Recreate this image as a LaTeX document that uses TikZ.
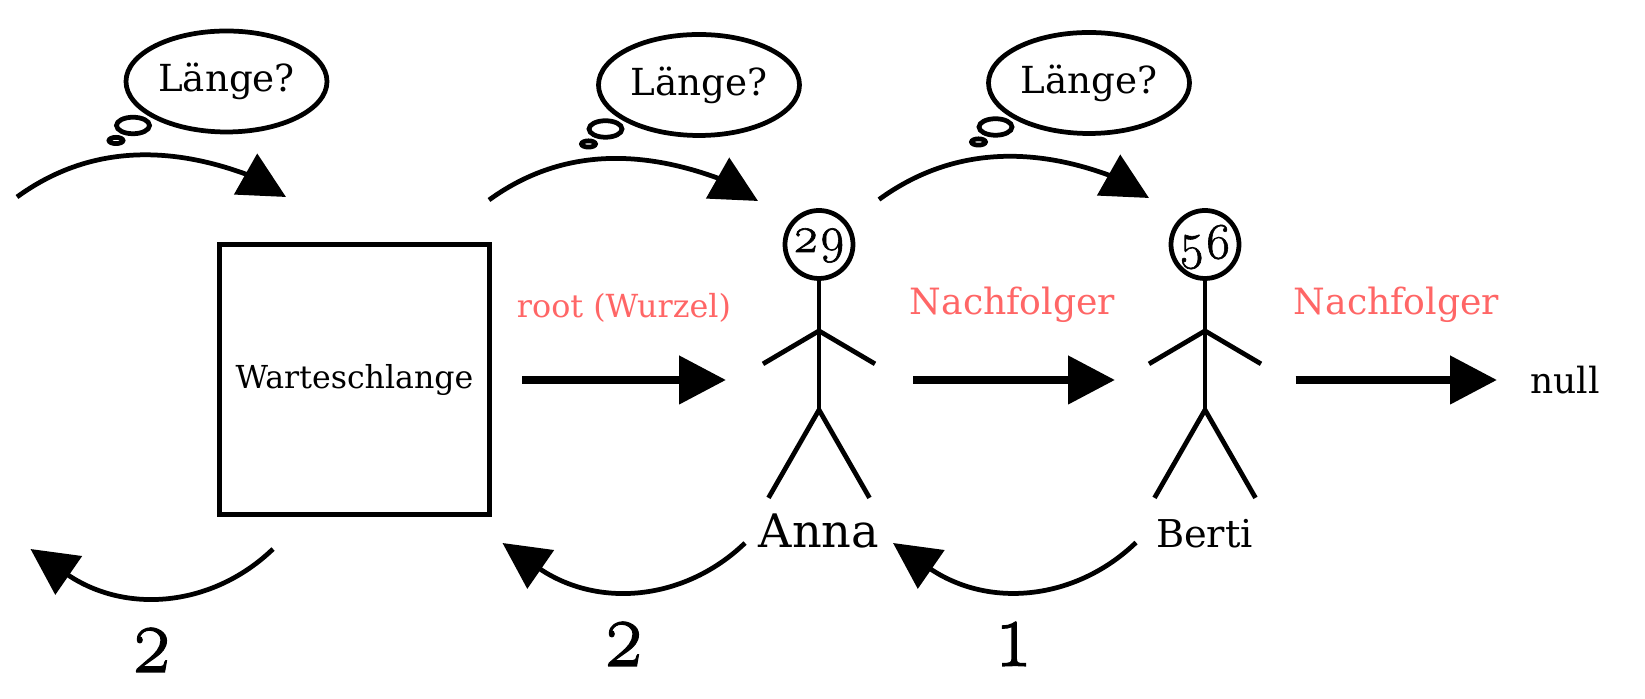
\documentclass[tikz,border=0pt]{standalone}
\usepackage{fontspec}
\setmainfont{DejaVu Serif}
\newfontfamily\oldnum[Numbers=OldStyle,FakeBold=1.2]{Latin Modern Roman}
\newfontfamily\bignum[Numbers=OldStyle,FakeBold=1.2,FakeStretch=0.83]{Latin Modern Roman}
\usepackage{tikz}
\usetikzlibrary{positioning,arrows.meta,shapes.geometric}
\usepackage{xcolor}
\tikzset{
  bubble/.style={ellipse,draw,line width=0.095cm,minimum width=4.02cm,minimum height=2.02cm,inner sep=0pt,outer sep=0pt,font=\fontsize{21.2}{24}\selectfont},
  puff/.style={ellipse,draw,line width=0.095cm,inner sep=0pt},
  walk/.style={line width=0.095cm,-{Triangle[length=0.93cm,width=0.92cm]}},
  link/.style={line width=0.16cm,-{Triangle[length=0.94cm,width=0.94cm]}},
  limb/.style={line width=0.095cm},
  head/.style={circle,draw,line width=0.095cm,minimum size=1.36cm,inner sep=0pt,font=\fontsize{29}{32}\oldnum},
  rel/.style={anchor=base,text=red!60},
  count/.style={anchor=base,font=\fontsize{54}{58}\bignum}
}
\begin{document}
\begin{tikzpicture}
\useasboundingbox (0,0) rectangle (32.9,13.98);
% thought bubbles
\foreach \n/\x/\y in {thinkQ/4.53/12.35,thinkA/13.98/12.28,thinkB/21.78/12.32} {
  \node[bubble] (\n) at (\x,\y) {Länge?};
  \node[puff,minimum width=0.66cm,minimum height=0.33cm] (\n puff) at ([shift={(-1.87,-0.88)}]\n.center) {};
  \node[puff,minimum width=0.28cm,minimum height=0.125cm] (\n dot) at ([shift={(-2.21,-1.18)}]\n.center) {};
}
% queue
\node[draw,line width=0.1cm,minimum size=5.4cm,inner sep=0pt,font=\fontsize{18}{20}\selectfont] (queue) at (7.09,6.38) {Warteschlange};
% persons
\foreach \n/\x/\age/\h/\d in {anna/16.38/29/0.5/0.2,berti/24.1/56/0.62/0.06} {
  \node[head,text height=\h cm,text depth=\d cm] (\n) at (\x,9.09) {\age};
  \coordinate (\n hip) at ([yshift=-2.58cm]\n.south);
  \coordinate (\n arm) at ([yshift=-1cm]\n.south);
  \draw[limb] (\n.south) -- (\n hip);
  \draw[limb] ([shift={(-1.12,-0.66)}]\n arm) -- (\n arm) -- ([shift={(1.12,-0.66)}]\n arm);
  \draw[limb] ([shift={(-1.01,-1.76)}]\n hip) -- (\n hip) -- ([shift={(1.01,-1.76)}]\n hip);
}
\node[anchor=base,font=\fontsize{26.3}{30}\selectfont] (annaName) at (16.38,3.02) {Anna};
\node[anchor=base,font=\fontsize{21.8}{26}\selectfont] (bertiName) at (24.09,3.03) {Berti};
\node[anchor=base,font=\fontsize{20.5}{22}\selectfont] (nullEnd) at (31.3,6.1) {null};
% references
\node[rel,font=\fontsize{18.1}{20}\selectfont] (rootLabel) at (12.48,7.62) {root (Wurzel)};
\node[rel,font=\fontsize{20.6}{22}\selectfont] (nextA) at (20.25,7.68) {Nachfolger};
\node[rel,font=\fontsize{20.6}{22}\selectfont] (nextB) at (27.93,7.68) {Nachfolger};
\foreach \n/\a/\b in {rootLink/10.44/14.52,nextLinkA/18.26/22.3,nextLinkB/25.91/29.94} {
  \coordinate (\n s) at (\a,6.38);
  \coordinate (\n e) at (\b,6.38);
  \draw[link] (\n s) -- (\n e);
}
% walk forward
\foreach \n/\a/\b/\c/\d in {fwQ/0.34/10.04/5.72/10.04,fwA/9.78/9.98/15.16/9.96,fwB/17.58/9.99/22.98/10.02} {
  \coordinate (\n s) at (\a,\b);
  \coordinate (\n e) at (\c,\d);
  \coordinate (\n b) at ([shift={(-0.81,0.46)}]\n e);
  \draw[walk] (\n s) to[out=36,in=160,out looseness=1,in looseness=0.9] (\n b) -- (\n e);
}
% walk back
\foreach \n/\a/\b/\c/\d in {bwQ/5.46/3.0/0.61/3.0,bwA/14.9/3.12/10.05/3.12,bwB/22.72/3.13/17.86/3.12} {
  \coordinate (\n s) at (\a,\b);
  \coordinate (\n e) at (\c,\d);
  \coordinate (\n b) at ([shift={(0.78,-0.54)}]\n e);
  \draw[walk] (\n s) to[out=224,in=-33,out looseness=1,in looseness=0.9] (\n b) -- (\n e);
}
% counts
\node[count] (countQ) at (3.03,0.54) {2};
\node[count] (countA) at (12.47,0.66) {2};
\node[count] (countB) at (20.28,0.66) {1};
\end{tikzpicture}
\end{document}
